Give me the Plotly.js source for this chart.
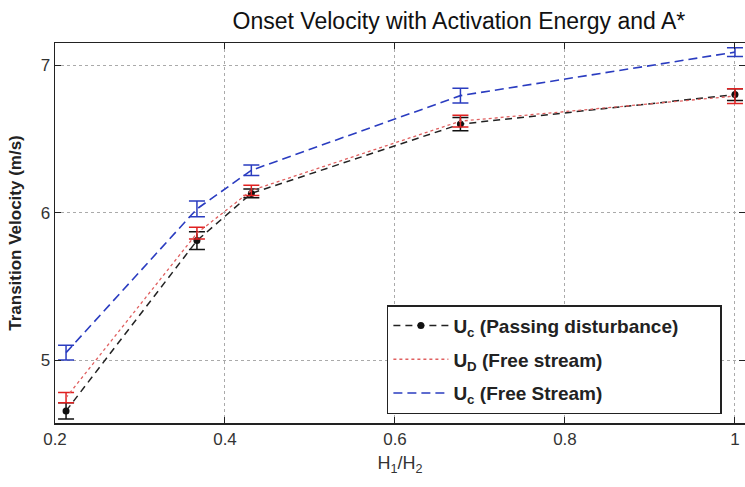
<!DOCTYPE html>
<html>
<head>
<meta charset="utf-8">
<script src="https://cdn.plot.ly/plotly-3.0.1.min.js"></script>
<style>html,body{margin:0;padding:0;background:#fff;}#chart{width:745px;height:487px;}</style>
</head>
<body>
<div id="chart"></div>
<script>
// H1/H2 ratios
const ratio = [0.213, 0.367, 0.431, 0.677, 1.0];
// U_c (Passing disturbance)
const ucPassing = [4.655, 5.81, 6.13, 6.60, 6.80];
const ucPassingErr = [0.055, 0.06, 0.03, 0.045, 0.04];
// U_D (Free stream)
const udFree = [4.745, 5.86, 6.15, 6.62, 6.79];
const udFreeErr = [0.035, 0.04, 0.035, 0.04, 0.05];
// U_c (Free Stream)
const ucFree = [5.05, 6.025, 6.287, 6.793, 7.088];
const ucFreeErr = [0.05, 0.053, 0.035, 0.05, 0.03];

const seriesNames = [
  'U<sub>c</sub> (Passing disturbance)&nbsp;&nbsp;&nbsp;&nbsp;&nbsp;&nbsp;&nbsp;',
  'U<sub>D</sub> (Free stream)',
  'U<sub>c</sub> (Free Stream)'
];

const xTicks = [0.2, 0.4, 0.6, 0.8, 1];
const xTickText = ['0.2', '0.4', '0.6', '0.8', '1'];
const yTicks = [5, 6, 7];

const font = 'Liberation Sans, Arial, Helvetica, sans-serif';

const traces = [
  {
    x: ratio, y: ucPassing, name: seriesNames[0], legendgroup: 'a',
    type: 'scatter', mode: 'lines+markers',
    line: {color: '#222222', width: 1.5, dash: '7px,5px'},
    marker: {color: '#111111', size: 7, symbol: 'circle'},
    error_y: {type: 'data', array: ucPassingErr, visible: true, color: '#111111', thickness: 1.5, width: 8}
  },
  {
    x: ratio, y: udFree, name: seriesNames[1], legendgroup: 'b',
    type: 'scatter', mode: 'lines',
    line: {color: '#e06060', width: 1.3, dash: 'dot'},
    error_y: {type: 'data', array: udFreeErr, visible: true, color: '#e02020', thickness: 1.5, width: 8}
  },
  {
    x: ratio, y: ucFree, name: seriesNames[2], legendgroup: 'c',
    type: 'scatter', mode: 'lines',
    line: {color: '#2a3cc0', width: 1.6, dash: '9px,5px'},
    error_y: {type: 'data', array: ucFreeErr, visible: true, color: '#2a3cc0', thickness: 1.5, width: 8}
  }
];

const layout = {
  width: 745, height: 487,
  margin: {l: 55, r: 0, t: 43, b: 64},
  paper_bgcolor: '#ffffff', plot_bgcolor: '#ffffff',
  font: {family: font, color: '#222222', size: 17},
  showlegend: true,
  title: {
    text: 'Onset Velocity with Activation Energy and A*',
    font: {family: font, size: 23, color: '#111111'},
    xref: 'container', x: 0.616, xanchor: 'center',
    yref: 'container', y: 0.958, yanchor: 'middle'
  },
  xaxis: {
    range: [0.2, 1.0118],
    tickvals: xTicks, ticktext: xTickText,
    ticks: 'inside', ticklen: 6, tickcolor: '#222', tickwidth: 1,
    showgrid: true, gridcolor: '#aaaaaa', griddash: 'dot', gridwidth: 1,
    zeroline: false,
    showline: true, linecolor: '#222222', linewidth: 1.5, mirror: 'ticks',
    tickfont: {family: font, size: 17, color: '#333333'},
    title: {text: 'H<sub>1</sub>/H<sub>2</sub>', font: {family: font, size: 18, color: '#333333'}, standoff: 8}
  },
  yaxis: {
    range: [4.573, 7.15],
    tickvals: yTicks,
    ticks: 'inside', ticklen: 6, tickcolor: '#222', tickwidth: 1,
    showgrid: true, gridcolor: '#aaaaaa', griddash: 'dot', gridwidth: 1,
    zeroline: false,
    showline: true, linecolor: '#222222', linewidth: 1.5, mirror: 'ticks',
    tickfont: {family: font, size: 17, color: '#333333'},
    title: {text: '<b>Transition Velocity (m/s)</b>', font: {family: font, size: 17, color: '#222222'}, standoff: 14}
  },
  legend: {
    x: 0.481, y: 0.31, xanchor: 'left', yanchor: 'top',
    bgcolor: '#ffffff', bordercolor: '#222222', borderwidth: 1.5,
    font: {family: font, size: 19, color: '#222222', weight: 'bold'},
    tracegroupgap: 6, itemwidth: 55
  }
};

Plotly.newPlot('chart', traces, layout, {displayModeBar: false, staticPlot: true});
</script>
</body>
</html>
